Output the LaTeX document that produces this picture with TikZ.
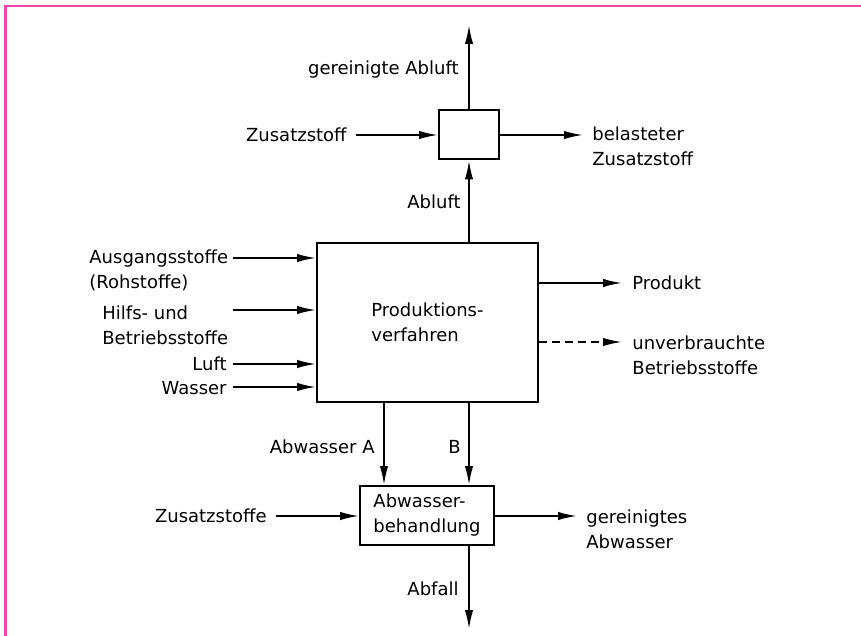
\documentclass[tikz,border=0pt]{standalone}
\usepackage{fontspec}
\setmainfont{DejaVu Sans}
\usepackage{xcolor}
\usepackage{tikz}
\usetikzlibrary{calc}
\usetikzlibrary{arrows.meta}
\tikzset{>={Latex[length=9.5pt,width=4.2pt]}}
\definecolor{rahmen}{RGB}{238,70,168}
\tikzset{kasten/.style={draw, line width=1pt}}
\tikzset{txt/.style={inner sep=0pt, align=left, font=\fontsize{9}{12.5}\selectfont}}
\tikzset{fluss/.style={->, line width=0.9pt}}

\begin{document}
\begin{tikzpicture}[x=0.5pt, y=-0.5pt]
	\useasboundingbox (0,0) rectangle (861,636);
	\fill[white] (0,0) rectangle (861,636);
	
	% Rahmen
	\draw[rahmen, line width=1.3pt] (5.5,636) -- (5.5,6) -- (861,6);
	
	% Kaesten
	\node[kasten, txt, minimum width=110.5pt, minimum height=79.5pt](PV) at (427.5,322.5) {Produktions-\\verfahren};
	\node[kasten, txt, minimum width=30pt, minimum height=24.5pt](W) at (469,135) {};
	\node[kasten, txt, minimum width=67pt, minimum height=29.5pt](AB) at (427,515.5) {Abwasser-\\behandlung};
	
	% freie Enden
	\coordinate[](Ea) at (233,258);
	\coordinate[](Eb) at (233,310);
	\coordinate[](Ec) at (233,364);
	\coordinate[](Ed) at (233,387);
	
	\coordinate[](Zo) at (356,135);
	\coordinate[](Wr) at (583,135);
	\coordinate[](Wo) at (469,25);
	
	\coordinate[](Pr) at (622,283);
	\coordinate[](Ur) at (622,342);
	
	\coordinate[](Aa) at (384,440);
	\coordinate[](Bb) at (469,440);
	\coordinate[](Zu) at (276,516);
	\coordinate[](Gr) at (577,516);
	\coordinate[](Af) at (469,629);
	
	%% Zufluesse
	\draw[fluss] (Ea) -- (Ea -| PV.west);
	\draw[fluss] (Eb) -- (Eb -| PV.west);
	\draw[fluss] (Ec) -- (Ec -| PV.west);
	\draw[fluss] (Ed) -- (Ed -| PV.west);
	
	%% Abluft
	\draw[fluss] (PV.north -| W) -- (W.south);
	\draw[fluss] (W.north) -- (Wo);
	\draw[fluss] (Zo) -- (W.west);
	\draw[fluss] (W.east) -- (Wr);
	
	%% Produkt
	\draw[fluss] (Pr -| PV.east) -- (Pr);
	\draw[fluss, dash pattern=on 4pt off 2.5pt] (Ur -| PV.east) -- (Ur);
	
	%% Abwasser
	\draw[fluss] (Aa |- PV.south) -- (Aa |- AB.north);
	\draw[fluss] (Bb |- PV.south) -- (Bb |- AB.north);
	\draw[fluss] (Zu) -- (Zu -| AB.west);
	\draw[fluss] (Gr -| AB.east) -- (Gr);
	\draw[fluss] (Bb |- AB.south) -- (Af);
	
	%% Beschriftung
	\node[txt, anchor=west](Aus) at (89,270.5) {Ausgangsstoffe\\(Rohstoffe)};
	\node[txt, anchor=west](Hilf) at (102,325) {Hilfs- und\\Betriebsstoffe};
	\node[txt, anchor=east](Luft) at (227,364) {Luft};
	\node[txt, anchor=east](Was) at (227,388) {Wasser};
	
	\node[txt, anchor=east](Zus) at (347,135) {Zusatzstoff};
	\node[txt, anchor=west](Bel) at (592,146.5) {belasteter\\Zusatzstoff};
	\node[txt, anchor=east](GAl) at (459,70) {gereinigte Abluft};
	\node[txt, anchor=east](Abl) at (461,202) {Abluft};
	
	\node[txt, anchor=west](Prod) at (632,283) {Produkt};
	\node[txt, anchor=west](Unv) at (632,355) {unverbrauchte\\Betriebsstoffe};
	
	\node[txt, anchor=east](AwA) at (375,447) {Abwasser A};
	\node[txt, anchor=east](AwB) at (461,447) {B};
	\node[txt, anchor=east](Zs) at (267,516) {Zusatzstoffe};
	\node[txt, anchor=west](GAw) at (586,529) {gereinigtes\\Abwasser};
	\node[txt, anchor=east](Abf) at (459,589) {Abfall};
			
\end{tikzpicture}
\end{document}
